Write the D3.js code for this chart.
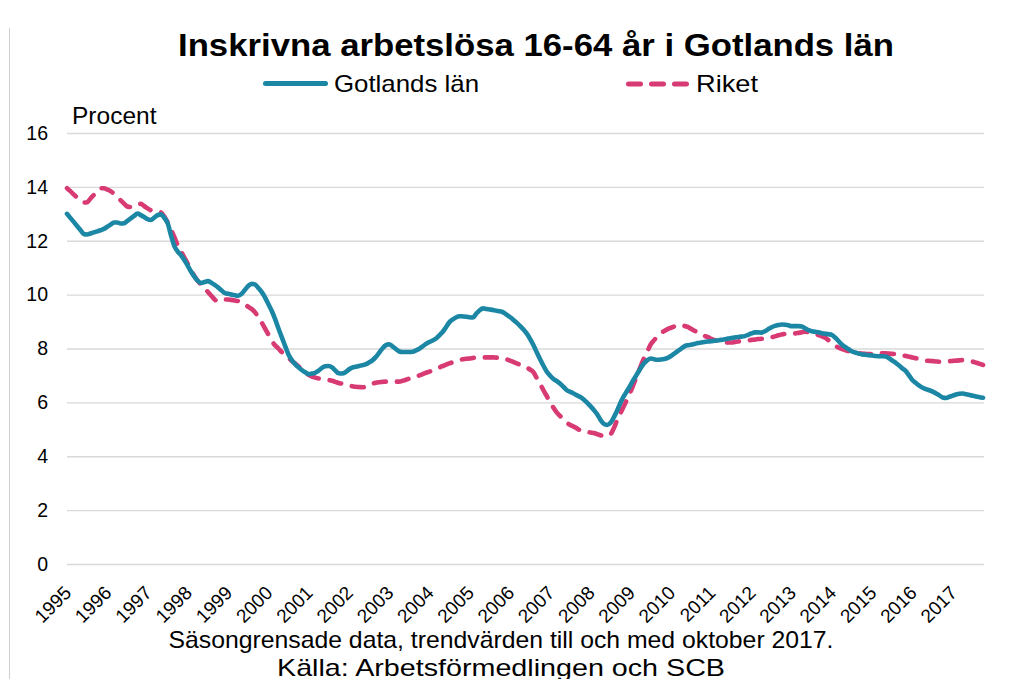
<!DOCTYPE html>
<html>
<head>
<meta charset="utf-8">
<script src="https://cdn.jsdelivr.net/npm/d3@7"></script>
<style>
  html, body { margin: 0; padding: 0; background: #fff; }
  svg { display: block; font-family: "Liberation Sans", Arial, sans-serif; }
</style>
</head>
<body>
<svg id="chart" width="1014" height="679"></svg>
<script>
// ---- data (monthly, Jan 1995 – Oct 2017, percent) ----
const titleText = "Inskrivna arbetslösa 16-64 år i Gotlands län";
const seriesNames = ["Gotlands län", "Riket"];
const yearLabels = ["1995","1996","1997","1998","1999","2000","2001","2002","2003","2004","2005","2006","2007","2008","2009","2010","2011","2012","2013","2014","2015","2016","2017"];
const yTicks = [0, 2, 4, 6, 8, 10, 12, 14, 16];
const notes = ["Säsongrensade data, trendvärden till och med oktober 2017.", "Källa: Arbetsförmedlingen och SCB"];

const gotland = [
  13.0, 12.85, 12.7, 12.55, 12.4, 12.25, 12.23, 12.27, 12.31, 12.35, 12.39, 12.44,
  12.52, 12.6, 12.68, 12.68, 12.64, 12.65, 12.74, 12.83, 12.92, 13.01, 12.95, 12.88,
  12.8, 12.77, 12.86, 12.95, 12.98, 12.85, 12.65, 12.2, 11.8, 11.6, 11.46, 11.28,
  11.07, 10.85, 10.66, 10.51, 10.43, 10.47, 10.5, 10.44, 10.36, 10.27, 10.16, 10.06,
  10.03, 10.0, 9.98, 9.96, 10.02, 10.17, 10.32, 10.4, 10.38, 10.25, 10.1, 9.9,
  9.65, 9.4, 9.1, 8.75, 8.42, 8.1, 7.78, 7.57, 7.42, 7.3, 7.2, 7.12,
  7.05, 7.07, 7.1, 7.18, 7.28, 7.34, 7.35, 7.3, 7.18, 7.08, 7.07, 7.12,
  7.22, 7.29, 7.32, 7.35, 7.38, 7.41, 7.48, 7.56, 7.68, 7.84, 8.0, 8.12,
  8.16, 8.08, 7.98, 7.89, 7.87, 7.87, 7.87, 7.88, 7.93, 7.99, 8.08, 8.17,
  8.24, 8.3, 8.37, 8.49, 8.62, 8.8, 8.98, 9.08, 9.16, 9.2, 9.19, 9.18,
  9.16, 9.15, 9.3, 9.42, 9.49, 9.47, 9.45, 9.43, 9.4, 9.38, 9.34, 9.26,
  9.17, 9.07, 8.96, 8.84, 8.71, 8.56, 8.36, 8.13, 7.86, 7.6, 7.36, 7.14,
  6.99, 6.87, 6.79, 6.69, 6.57, 6.45, 6.39, 6.33, 6.26, 6.2, 6.11, 5.99,
  5.86, 5.72, 5.56, 5.35, 5.2, 5.16, 5.24, 5.45, 5.71, 6.0, 6.24, 6.44,
  6.65, 6.87, 7.07, 7.28, 7.45, 7.57, 7.63, 7.6, 7.58, 7.59, 7.61, 7.65,
  7.72, 7.81, 7.9, 7.99, 8.08, 8.12, 8.14, 8.17, 8.2, 8.22, 8.24, 8.26,
  8.27, 8.29, 8.3, 8.32, 8.34, 8.37, 8.39, 8.41, 8.43, 8.44, 8.46, 8.51,
  8.56, 8.6, 8.6, 8.59, 8.64, 8.72, 8.79, 8.84, 8.87, 8.89, 8.88, 8.86,
  8.83, 8.83, 8.83, 8.82, 8.75, 8.68, 8.64, 8.62, 8.6, 8.57, 8.55, 8.53,
  8.5, 8.4, 8.27, 8.14, 8.05, 7.97, 7.89, 7.85, 7.81, 7.78, 7.77, 7.75,
  7.74, 7.72, 7.71, 7.71, 7.7, 7.64, 7.55, 7.47, 7.37, 7.26, 7.16, 6.99,
  6.82, 6.72, 6.62, 6.54, 6.49, 6.45, 6.4, 6.33, 6.26, 6.18, 6.16, 6.21,
  6.25, 6.29, 6.32, 6.33, 6.3, 6.27, 6.25, 6.22, 6.19, 6.17
];

const riket = [
  13.95, 13.84, 13.72, 13.6, 13.5, 13.42, 13.43, 13.57, 13.7, 13.83, 13.95, 13.95,
  13.9, 13.84, 13.74, 13.62, 13.5, 13.38, 13.27, 13.25, 13.3, 13.36, 13.37, 13.29,
  13.2, 13.13, 13.1, 13.08, 13.05, 12.9, 12.68, 12.42, 12.13, 11.83, 11.6, 11.37,
  11.14, 10.91, 10.68, 10.5, 10.37, 10.24, 10.1, 9.96, 9.82, 9.75, 9.78, 9.82,
  9.82, 9.8, 9.78, 9.76, 9.71, 9.63, 9.55, 9.47, 9.35, 9.17, 8.97, 8.75,
  8.52, 8.29, 8.12, 8.0, 7.87, 7.76, 7.65, 7.54, 7.44, 7.33, 7.23, 7.12,
  7.02, 6.96, 6.92, 6.89, 6.87, 6.85, 6.83, 6.8, 6.76, 6.72, 6.69, 6.65,
  6.62, 6.6, 6.58, 6.57, 6.56, 6.58, 6.63, 6.69, 6.73, 6.75, 6.76, 6.77,
  6.77, 6.77, 6.77, 6.77, 6.8, 6.84, 6.88, 6.92, 6.96, 7.0, 7.05, 7.1,
  7.14, 7.19, 7.24, 7.3, 7.35, 7.4, 7.45, 7.49, 7.53, 7.57, 7.6, 7.62,
  7.63, 7.65, 7.66, 7.66, 7.67, 7.67, 7.67, 7.67, 7.66, 7.66, 7.65, 7.6,
  7.55, 7.5, 7.45, 7.4, 7.35, 7.29, 7.22, 7.12, 6.9, 6.68, 6.45, 6.23,
  6.01, 5.8, 5.62, 5.49, 5.35, 5.24, 5.16, 5.1, 5.03, 4.96, 4.93, 4.91,
  4.88, 4.86, 4.82, 4.78, 4.75, 4.77, 4.82, 5.05, 5.35, 5.61, 5.87, 6.13,
  6.41, 6.72, 7.03, 7.35, 7.65, 7.9, 8.16, 8.31, 8.46, 8.57, 8.65, 8.72,
  8.77, 8.82, 8.87, 8.86, 8.84, 8.8, 8.73, 8.66, 8.6, 8.53, 8.47, 8.42,
  8.36, 8.31, 8.28, 8.26, 8.24, 8.22, 8.22, 8.24, 8.26, 8.27, 8.29, 8.3,
  8.32, 8.33, 8.35, 8.36, 8.38, 8.39, 8.42, 8.45, 8.49, 8.52, 8.54, 8.55,
  8.55, 8.56, 8.58, 8.6, 8.62, 8.6, 8.57, 8.54, 8.5, 8.45, 8.4, 8.3,
  8.2, 8.1, 8.03, 7.98, 7.93, 7.9, 7.87, 7.85, 7.82, 7.81, 7.8, 7.79,
  7.79, 7.8, 7.81, 7.82, 7.82, 7.81, 7.8, 7.79, 7.78, 7.75, 7.72, 7.69,
  7.67, 7.64, 7.61, 7.58, 7.55, 7.54, 7.53, 7.52, 7.51, 7.52, 7.53, 7.53,
  7.54, 7.55, 7.56, 7.57, 7.55, 7.53, 7.51, 7.47, 7.43, 7.39
];

const colors = { gotland: "#1b87a5", riket: "#d83a73" };

// ---- drawing ----
const svg = d3.select("#chart");
const plot = { left: 67, right: 983, top: 133, bottom: 564 };

const x = d3.scaleLinear().domain([0, gotland.length - 1]).range([plot.left, plot.right]);
const y = d3.scaleLinear().domain([0, 16]).range([plot.bottom, plot.top]);

// left border line of chart area
svg.append("line")
  .attr("x1", 9.5).attr("x2", 9.5).attr("y1", 28).attr("y2", 679)
  .attr("stroke", "#cfcfcf").attr("stroke-width", 1);

// gridlines + y labels via axis
const yAxis = d3.axisLeft(y).tickValues(yTicks).tickSize(0);
const yg = svg.append("g").attr("transform", `translate(${plot.left},0)`).call(yAxis);
yg.select(".domain").remove();
yg.selectAll(".tick line").attr("stroke", "#d9d9d9").attr("stroke-width", 1.3)
  .attr("x1", 0).attr("x2", plot.right - plot.left + 1);
yg.selectAll(".tick text")
  .attr("x", -19)
  .attr("fill", "#000")
  .style("font-size", "19.5px")
  .style("font-family", "'Liberation Sans', Arial, sans-serif");

// x labels via axis (year starts)
const yearIdx = yearLabels.map((_, i) => i * 12);
const xAxis = d3.axisBottom(x).tickValues(yearIdx).tickFormat((d, i) => yearLabels[i]).tickSize(0);
const xg = svg.append("g").attr("transform", `translate(0,${plot.bottom})`).call(xAxis);
xg.select(".domain").remove();
xg.selectAll(".tick text")
  .attr("text-anchor", "end")
  .attr("x", 0).attr("y", 0).attr("dy", 0)
  .attr("transform", "translate(5,30) rotate(-45)")
  .attr("fill", "#000")
  .style("font-size", "19px")
  .style("font-family", "'Liberation Sans', Arial, sans-serif");

// lines
const lineGen = d3.line().x((d, i) => x(i)).y(d => y(d)).curve(d3.curveMonotoneX);

svg.append("path").datum(riket)
  .attr("d", lineGen)
  .attr("fill", "none")
  .attr("stroke", colors.riket)
  .attr("stroke-width", 4.6)
  .attr("stroke-dasharray", "12,11")
  .attr("stroke-linecap", "round")
  .attr("stroke-linejoin", "round");

svg.append("path").datum(gotland)
  .attr("d", lineGen)
  .attr("fill", "none")
  .attr("stroke", colors.gotland)
  .attr("stroke-width", 4.6)
  .attr("stroke-linecap", "round")
  .attr("stroke-linejoin", "round");

// title
svg.append("text")
  .attr("x", 536).attr("y", 56)
  .attr("text-anchor", "middle")
  .attr("textLength", 716).attr("lengthAdjust", "spacingAndGlyphs")
  .style("font-size", "32px").style("font-weight", "bold")
  .text(titleText);

// legend
const leg = svg.append("g");
leg.append("line").attr("x1", 265.5).attr("x2", 325.5).attr("y1", 83.5).attr("y2", 83.5)
  .attr("stroke", colors.gotland).attr("stroke-width", 5).attr("stroke-linecap", "round");
leg.append("text").attr("x", 334).attr("y", 91.5).style("font-size", "24px")
  .attr("textLength", 145).attr("lengthAdjust", "spacingAndGlyphs").text(seriesNames[0]);
leg.append("line").attr("x1", 628.5).attr("x2", 686.5).attr("y1", 84).attr("y2", 84)
  .attr("stroke", colors.riket).attr("stroke-width", 5).attr("stroke-linecap", "round")
  .attr("stroke-dasharray", "12,11");
leg.append("text").attr("x", 696).attr("y", 91.5).style("font-size", "24px")
  .attr("textLength", 62).attr("lengthAdjust", "spacingAndGlyphs").text(seriesNames[1]);

// y-axis title
svg.append("text").attr("x", 72).attr("y", 124).style("font-size", "24.5px").text("Procent");

// notes
svg.append("text").attr("x", 501).attr("y", 648).attr("text-anchor", "middle")
  .attr("textLength", 665).attr("lengthAdjust", "spacingAndGlyphs")
  .style("font-size", "24px").text(notes[0]);
svg.append("text").attr("x", 501).attr("y", 676).attr("text-anchor", "middle")
  .attr("textLength", 448).attr("lengthAdjust", "spacingAndGlyphs")
  .style("font-size", "24px").text(notes[1]);
</script>
</body>
</html>
